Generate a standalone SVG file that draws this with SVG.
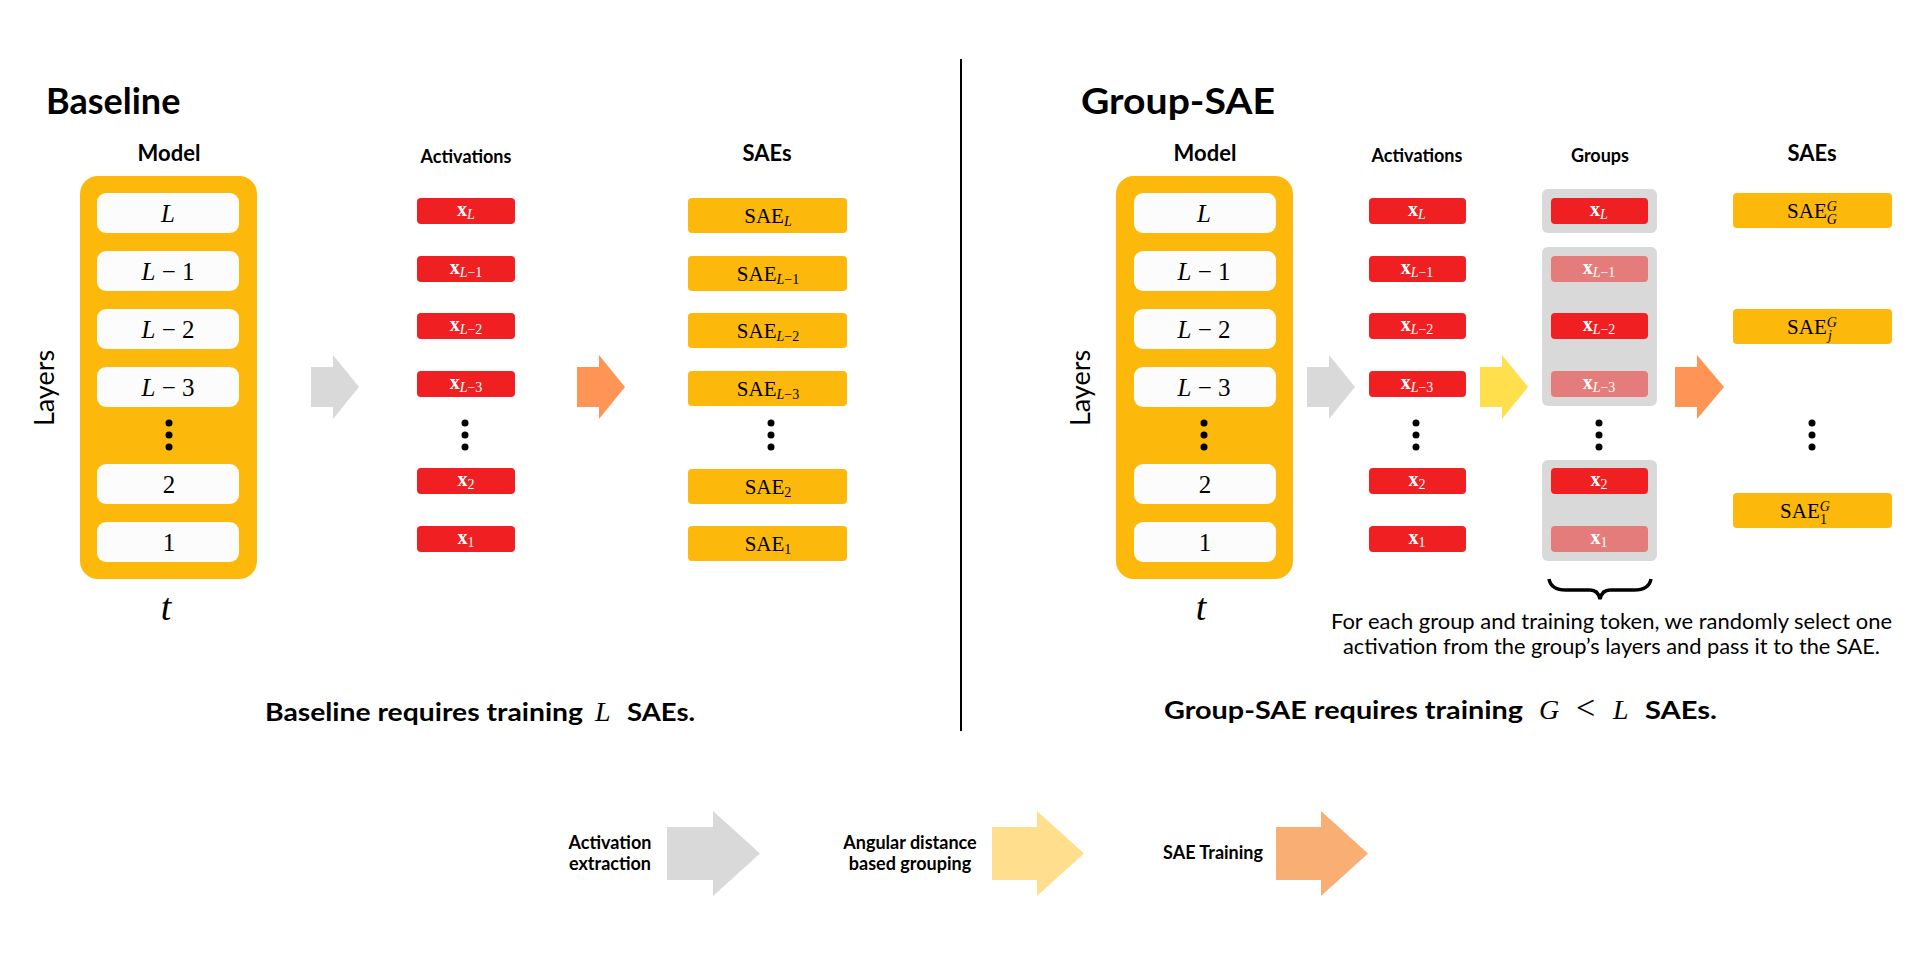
<svg xmlns="http://www.w3.org/2000/svg" width="1920" height="962" viewBox="0 0 1920 962">
<style>
.sans{font-family:Lato,"Open Sans","Liberation Sans",sans-serif;fill:#000}
.b{font-weight:700}
.m{font-family:"Liberation Serif","DejaVu Serif",serif;fill:#000}
.i{font-style:italic}
.model{fill:#FDB90B}
.layer{fill:#FCFCFC}
.act{fill:#F01F22}
.actl{fill:#E47C7B}
.sae{fill:#FDB90B}
.grp{fill:#D9D9D9}
.wt{font-family:"Liberation Serif","DejaVu Serif",serif;fill:#fff}
.dot{fill:#000}
</style>
<rect width="1920" height="962" fill="#fff"/>

<g id="titles">
<text class="sans b" x="46" y="114" font-size="36">Baseline</text>
<text class="sans b" x="1081" y="114" font-size="36" textLength="194" lengthAdjust="spacingAndGlyphs">Group-SAE</text>
</g>

<line id="divider" x1="961" y1="59" x2="961" y2="731" stroke="#000" stroke-width="2"/>

<!-- ===== Baseline panel ===== -->
<g id="baseline-model">
<text class="sans b" x="169" y="161" font-size="22" text-anchor="middle">Model</text>
<rect class="model" x="80" y="176" width="177" height="403" rx="18"/>
<rect class="layer" x="97" y="193" width="142" height="40" rx="9"/>
<rect class="layer" x="97" y="251" width="142" height="40" rx="9"/>
<rect class="layer" x="97" y="309" width="142" height="40" rx="9"/>
<rect class="layer" x="97" y="367" width="142" height="40" rx="9"/>
<rect class="layer" x="97" y="464" width="142" height="40" rx="9"/>
<rect class="layer" x="97" y="522" width="142" height="40" rx="9"/>
<text class="m" x="168" y="222" font-size="25" text-anchor="middle"><tspan class="i">L</tspan></text>
<text class="m" x="168" y="280" font-size="25" text-anchor="middle"><tspan class="i">L</tspan> − 1</text>
<text class="m" x="168" y="338" font-size="25" text-anchor="middle"><tspan class="i">L</tspan> − 2</text>
<text class="m" x="168" y="396" font-size="25" text-anchor="middle"><tspan class="i">L</tspan> − 3</text>
<text class="m" x="169" y="493" font-size="25" text-anchor="middle">2</text>
<text class="m" x="169" y="551" font-size="25" text-anchor="middle">1</text>
<circle class="dot" cx="169" cy="423" r="3.5"/><circle class="dot" cx="169" cy="435" r="3.5"/><circle class="dot" cx="169" cy="447" r="3.5"/>
<text class="sans" font-size="27" text-anchor="middle" transform="translate(54,388) rotate(-90)">Layers</text>
<text class="m i" x="166" y="620" font-size="38" text-anchor="middle">t</text>
</g>

<g id="baseline-activations">
<text class="sans b" x="466" y="163" font-size="18" text-anchor="middle">Activations</text>
<rect class="act" x="417" y="198" width="98" height="26" rx="4"/>
<rect class="act" x="417" y="256" width="98" height="26" rx="4"/>
<rect class="act" x="417" y="313" width="98" height="26" rx="4"/>
<rect class="act" x="417" y="371" width="98" height="26" rx="4"/>
<rect class="act" x="417" y="468" width="98" height="26" rx="4"/>
<rect class="act" x="417" y="526" width="98" height="26" rx="4"/>
<text class="wt" x="466" y="216" font-size="20" text-anchor="middle"><tspan font-weight="700">x</tspan><tspan class="i" font-size="14" dy="3">L</tspan></text>
<text class="wt" x="466" y="274" font-size="20" text-anchor="middle"><tspan font-weight="700">x</tspan><tspan font-size="14" dy="3"><tspan class="i">L</tspan>−1</tspan></text>
<text class="wt" x="466" y="331" font-size="20" text-anchor="middle"><tspan font-weight="700">x</tspan><tspan font-size="14" dy="3"><tspan class="i">L</tspan>−2</tspan></text>
<text class="wt" x="466" y="389" font-size="20" text-anchor="middle"><tspan font-weight="700">x</tspan><tspan font-size="14" dy="3"><tspan class="i">L</tspan>−3</tspan></text>
<text class="wt" x="466" y="486" font-size="20" text-anchor="middle"><tspan font-weight="700">x</tspan><tspan font-size="14" dy="3">2</tspan></text>
<text class="wt" x="466" y="544" font-size="20" text-anchor="middle"><tspan font-weight="700">x</tspan><tspan font-size="14" dy="3">1</tspan></text>
<circle class="dot" cx="465" cy="423" r="3.5"/><circle class="dot" cx="465" cy="435" r="3.5"/><circle class="dot" cx="465" cy="447" r="3.5"/>
</g>

<g id="baseline-saes">
<text class="sans b" x="767" y="161" font-size="22" text-anchor="middle">SAEs</text>
<rect class="sae" x="688" y="198" width="159" height="35" rx="4"/>
<rect class="sae" x="688" y="256" width="159" height="35" rx="4"/>
<rect class="sae" x="688" y="313" width="159" height="35" rx="4"/>
<rect class="sae" x="688" y="371" width="159" height="35" rx="4"/>
<rect class="sae" x="688" y="469" width="159" height="35" rx="4"/>
<rect class="sae" x="688" y="526" width="159" height="35" rx="4"/>
<text class="m" x="768" y="223" font-size="21" text-anchor="middle">SAE<tspan class="i" font-size="14" dy="3">L</tspan></text>
<text class="m" x="768" y="281" font-size="21" text-anchor="middle">SAE<tspan font-size="14" dy="3"><tspan class="i">L</tspan>−1</tspan></text>
<text class="m" x="768" y="338" font-size="21" text-anchor="middle">SAE<tspan font-size="14" dy="3"><tspan class="i">L</tspan>−2</tspan></text>
<text class="m" x="768" y="396" font-size="21" text-anchor="middle">SAE<tspan font-size="14" dy="3"><tspan class="i">L</tspan>−3</tspan></text>
<text class="m" x="768" y="494" font-size="21" text-anchor="middle">SAE<tspan font-size="14" dy="3">2</tspan></text>
<text class="m" x="768" y="551" font-size="21" text-anchor="middle">SAE<tspan font-size="14" dy="3">1</tspan></text>
<circle class="dot" cx="771" cy="423" r="3.5"/><circle class="dot" cx="771" cy="435" r="3.5"/><circle class="dot" cx="771" cy="447" r="3.5"/>
</g>

<!-- ===== Group-SAE panel ===== -->
<g id="group-model">
<text class="sans b" x="1205" y="161" font-size="22" text-anchor="middle">Model</text>
<rect class="model" x="1116" y="176" width="177" height="403" rx="18"/>
<rect class="layer" x="1134" y="193" width="142" height="40" rx="9"/>
<rect class="layer" x="1134" y="251" width="142" height="40" rx="9"/>
<rect class="layer" x="1134" y="309" width="142" height="40" rx="9"/>
<rect class="layer" x="1134" y="367" width="142" height="40" rx="9"/>
<rect class="layer" x="1134" y="464" width="142" height="40" rx="9"/>
<rect class="layer" x="1134" y="522" width="142" height="40" rx="9"/>
<text class="m" x="1204" y="222" font-size="25" text-anchor="middle"><tspan class="i">L</tspan></text>
<text class="m" x="1204" y="280" font-size="25" text-anchor="middle"><tspan class="i">L</tspan> − 1</text>
<text class="m" x="1204" y="338" font-size="25" text-anchor="middle"><tspan class="i">L</tspan> − 2</text>
<text class="m" x="1204" y="396" font-size="25" text-anchor="middle"><tspan class="i">L</tspan> − 3</text>
<text class="m" x="1205" y="493" font-size="25" text-anchor="middle">2</text>
<text class="m" x="1205" y="551" font-size="25" text-anchor="middle">1</text>
<circle class="dot" cx="1204" cy="423" r="3.5"/><circle class="dot" cx="1204" cy="435" r="3.5"/><circle class="dot" cx="1204" cy="447" r="3.5"/>
<text class="sans" font-size="27" text-anchor="middle" transform="translate(1090,388) rotate(-90)">Layers</text>
<text class="m i" x="1201" y="620" font-size="38" text-anchor="middle">t</text>
</g>

<g id="group-activations">
<text class="sans b" x="1417" y="162" font-size="18" text-anchor="middle">Activations</text>
<rect class="act" x="1369" y="198" width="97" height="26" rx="4"/>
<rect class="act" x="1369" y="256" width="97" height="26" rx="4"/>
<rect class="act" x="1369" y="313" width="97" height="26" rx="4"/>
<rect class="act" x="1369" y="371" width="97" height="26" rx="4"/>
<rect class="act" x="1369" y="468" width="97" height="26" rx="4"/>
<rect class="act" x="1369" y="526" width="97" height="26" rx="4"/>
<text class="wt" x="1417" y="216" font-size="20" text-anchor="middle"><tspan font-weight="700">x</tspan><tspan class="i" font-size="14" dy="3">L</tspan></text>
<text class="wt" x="1417" y="274" font-size="20" text-anchor="middle"><tspan font-weight="700">x</tspan><tspan font-size="14" dy="3"><tspan class="i">L</tspan>−1</tspan></text>
<text class="wt" x="1417" y="331" font-size="20" text-anchor="middle"><tspan font-weight="700">x</tspan><tspan font-size="14" dy="3"><tspan class="i">L</tspan>−2</tspan></text>
<text class="wt" x="1417" y="389" font-size="20" text-anchor="middle"><tspan font-weight="700">x</tspan><tspan font-size="14" dy="3"><tspan class="i">L</tspan>−3</tspan></text>
<text class="wt" x="1417" y="486" font-size="20" text-anchor="middle"><tspan font-weight="700">x</tspan><tspan font-size="14" dy="3">2</tspan></text>
<text class="wt" x="1417" y="544" font-size="20" text-anchor="middle"><tspan font-weight="700">x</tspan><tspan font-size="14" dy="3">1</tspan></text>
<circle class="dot" cx="1416" cy="423" r="3.5"/><circle class="dot" cx="1416" cy="435" r="3.5"/><circle class="dot" cx="1416" cy="447" r="3.5"/>
</g>

<g id="group-groups">
<text class="sans b" x="1600" y="162" font-size="18" text-anchor="middle">Groups</text>
<rect class="grp" x="1542" y="189" width="115" height="44" rx="6"/>
<rect class="grp" x="1542" y="247" width="115" height="159" rx="6"/>
<rect class="grp" x="1542" y="460" width="115" height="101" rx="6"/>
<rect class="act" x="1551" y="198" width="97" height="26" rx="4"/>
<rect class="actl" x="1551" y="256" width="97" height="26" rx="4"/>
<rect class="act" x="1551" y="313" width="97" height="26" rx="4"/>
<rect class="actl" x="1551" y="371" width="97" height="26" rx="4"/>
<rect class="act" x="1551" y="468" width="97" height="26" rx="4"/>
<rect class="actl" x="1551" y="526" width="97" height="26" rx="4"/>
<text class="wt" x="1599" y="216" font-size="20" text-anchor="middle"><tspan font-weight="700">x</tspan><tspan class="i" font-size="14" dy="3">L</tspan></text>
<text class="wt" x="1599" y="274" font-size="20" text-anchor="middle"><tspan font-weight="700">x</tspan><tspan font-size="14" dy="3"><tspan class="i">L</tspan>−1</tspan></text>
<text class="wt" x="1599" y="331" font-size="20" text-anchor="middle"><tspan font-weight="700">x</tspan><tspan font-size="14" dy="3"><tspan class="i">L</tspan>−2</tspan></text>
<text class="wt" x="1599" y="389" font-size="20" text-anchor="middle"><tspan font-weight="700">x</tspan><tspan font-size="14" dy="3"><tspan class="i">L</tspan>−3</tspan></text>
<text class="wt" x="1599" y="486" font-size="20" text-anchor="middle"><tspan font-weight="700">x</tspan><tspan font-size="14" dy="3">2</tspan></text>
<text class="wt" x="1599" y="544" font-size="20" text-anchor="middle"><tspan font-weight="700">x</tspan><tspan font-size="14" dy="3">1</tspan></text>
<circle class="dot" cx="1599" cy="423" r="3.5"/><circle class="dot" cx="1599" cy="435" r="3.5"/><circle class="dot" cx="1599" cy="447" r="3.5"/>
<path d="M1549,579 Q1551,590 1566,590 L1590,590 Q1598,590 1600,599 Q1602,590 1610,590 L1634,590 Q1649,590 1651,579" fill="none" stroke="#000" stroke-width="3.5"/>
<text class="sans" x="1331" y="629" font-size="21" textLength="561" lengthAdjust="spacingAndGlyphs">For each group and training token, we randomly select one</text>
<text class="sans" x="1343" y="654" font-size="21" textLength="537" lengthAdjust="spacingAndGlyphs">activation from the group’s layers and pass it to the SAE.</text>
</g>

<g id="group-saes">
<text class="sans b" x="1812" y="161" font-size="22" text-anchor="middle">SAEs</text>
<rect class="sae" x="1733" y="193" width="159" height="35" rx="4"/>
<rect class="sae" x="1733" y="309" width="159" height="35" rx="4"/>
<rect class="sae" x="1733" y="493" width="159" height="35" rx="4"/>
<text class="m" x="1812" y="218" font-size="21" text-anchor="middle">SAE<tspan class="i" font-size="14" dy="-7">G</tspan><tspan class="i" font-size="14" dx="-10" dy="13">G</tspan></text>
<text class="m" x="1812" y="334" font-size="21" text-anchor="middle">SAE<tspan class="i" font-size="14" dy="-7">G</tspan><tspan class="i" font-size="14" dx="-9" dy="13">j</tspan><tspan font-size="14" dx="5"> </tspan></text>
<text class="m" x="1805" y="518" font-size="21" text-anchor="middle">SAE<tspan class="i" font-size="14" dy="-7">G</tspan><tspan font-size="14" dx="-10" dy="13">1</tspan><tspan font-size="14" dx="3"> </tspan></text>
<circle class="dot" cx="1812" cy="423" r="3.5"/><circle class="dot" cx="1812" cy="435" r="3.5"/><circle class="dot" cx="1812" cy="447" r="3.5"/>
</g>

<g id="connectors">
<path d="M311,367 H333 V355 L359,387 L333,419 V407 H311 Z" fill="#D9D9D9"/>
<path d="M577,367 H599 V355 L625,387 L599,419 V407 H577 Z" fill="#FF9457"/>
<path d="M1307,367 H1329 V355 L1355,387 L1329,419 V407 H1307 Z" fill="#D9D9D9"/>
<path d="M1480,367 H1502 V355 L1528,387 L1502,419 V407 H1480 Z" fill="#FFDF4B"/>
<path d="M1675,367 H1697 V355 L1724,387 L1697,419 V407 H1675 Z" fill="#FF9457"/>
</g>

<g id="summaries">
<text class="sans b" x="265" y="721" font-size="24" textLength="318" lengthAdjust="spacingAndGlyphs">Baseline requires training</text>
<text class="m i" x="595" y="721" font-size="28">L</text>
<text class="sans b" x="627" y="721" font-size="24" textLength="68" lengthAdjust="spacingAndGlyphs">SAEs.</text>
<text class="sans b" x="1164" y="719" font-size="24" textLength="359" lengthAdjust="spacingAndGlyphs">Group-SAE requires training</text>
<text class="m i" x="1539" y="719" font-size="28">G</text>
<text class="m" x="1576" y="719" font-size="34">&lt;</text>
<text class="m i" x="1613" y="719" font-size="28">L</text>
<text class="sans b" x="1645" y="719" font-size="24" textLength="72" lengthAdjust="spacingAndGlyphs">SAEs.</text>
</g>

<g id="legend">
<text class="sans b" x="610" y="849" font-size="18" text-anchor="middle">Activation</text>
<text class="sans b" x="610" y="870" font-size="18" text-anchor="middle">extraction</text>
<path d="M667,827 H713 V811 L760,853.5 L713,896 V880 H667 Z" fill="#D9D9D9"/>
<text class="sans b" x="910" y="849" font-size="18" text-anchor="middle">Angular distance</text>
<text class="sans b" x="910" y="870" font-size="18" text-anchor="middle">based grouping</text>
<path d="M992,827 H1037 V811 L1084,853.5 L1037,896 V880 H992 Z" fill="#FFDF8D"/>
<text class="sans b" x="1213" y="859" font-size="18" text-anchor="middle">SAE Training</text>
<path d="M1276,827 H1321 V811 L1368,853.5 L1321,896 V880 H1276 Z" fill="#F9AE74"/>
</g>
</svg>
